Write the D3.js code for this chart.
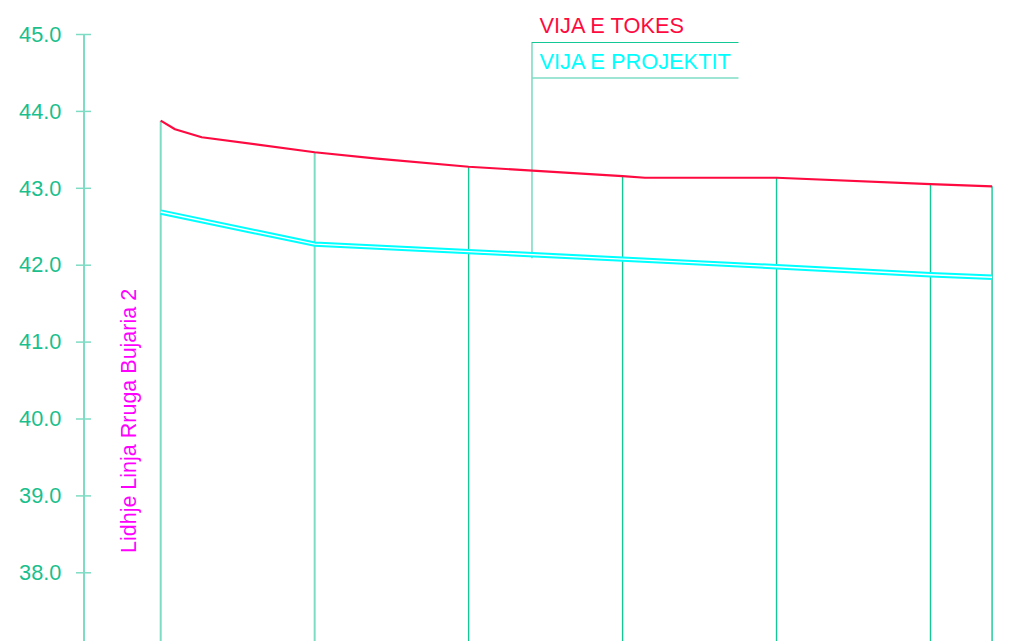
<!DOCTYPE html>
<html>
<head>
<meta charset="utf-8">
<script src="https://cdn.jsdelivr.net/npm/d3@7"></script>
<style>
  html, body { margin: 0; padding: 0; background: #ffffff; }
  svg { display: block; }
  text { font-family: "Liberation Sans", Arial, sans-serif; }
</style>
</head>
<body>
<svg id="chart" width="1024" height="641"></svg>
<script>
// ---- data ----
const yTicks = [38, 39, 40, 41, 42, 43, 44, 45];
const groundStations = [0, 1.86, 5.33, 20, 28.1, 40, 60, 62.9, 80, 100, 108];
const groundElev     = [43.873, 43.761, 43.657, 43.462, 43.38, 43.274, 43.153, 43.131, 43.131, 43.049, 43.019];
const designStations = [0, 20, 40, 60, 80, 100, 108];
const designElev     = [42.685, 42.267, 42.170, 42.072, 41.974, 41.87, 41.837];
const profileStations = [0, 20, 40, 60, 80, 100, 108];
const labelStation = 48.23;
const legendLabels = ["VIJA E TOKES", "VIJA E PROJEKTIT"];
const sideLabel = "Lidhje Linja Rruga Bujaria 2";

// ---- setup ----
const W = 1024, H = 641;
const svg = d3.select("#chart");
const x = d3.scaleLinear().domain([0, 100]).range([160.7, 930.5]);
const y = d3.scaleLinear().domain([38, 45]).range([572.3, 34]);

const light = "#7fdcc4", dark = "#14c896", labelCol = "#1abf8c";
const red = "#ff0a40", cyan = "#00ffff";

const groundAt = s => {
  const i = groundStations.indexOf(s);
  if (i >= 0) return groundElev[i];
  return d3.scaleLinear().domain(groundStations).range(groundElev)(s);
};
const designAt = s => d3.scaleLinear().domain(designStations).range(designElev)(s);

// ---- axis ----
const axisX = 84;
const gAxis = svg.append("g").attr("transform", `translate(${axisX},0)`);
gAxis.call(d3.axisLeft(y).tickValues(yTicks).tickFormat(d3.format(".1f")).tickSize(8).tickPadding(15));
gAxis.select(".domain").remove();
gAxis.append("line").attr("x1", 0).attr("x2", 0).attr("y1", y(45)).attr("y2", H + 5)
  .attr("stroke", light).attr("stroke-width", 2);
gAxis.selectAll(".tick line").attr("x1", 7).attr("x2", -8).attr("stroke", light).attr("stroke-width", 1.5);
gAxis.selectAll(".tick text").attr("fill", labelCol).attr("font-size", "21.8px")
  .attr("font-family", "Liberation Sans, Arial, sans-serif").attr("x", -22.5).attr("dy", "0.33em");

// ---- station verticals ----
svg.append("g").selectAll("line").data(profileStations).join("line")
  .attr("x1", d => x(d)).attr("x2", d => x(d))
  .attr("y1", d => y(groundAt(d))).attr("y2", H + 5)
  .attr("stroke", (d, i) => i < 2 ? light : dark)
  .attr("stroke-width", (d, i) => i < 2 ? 2 : 1.4);

// ---- leader line and legend ----
const lx = x(labelStation);
svg.append("line").attr("x1", lx).attr("x2", lx).attr("y1", 42).attr("y2", y(designAt(labelStation)) + 3.5)
  .attr("stroke", light).attr("stroke-width", 1.6);
svg.append("line").attr("x1", lx).attr("x2", 738.5).attr("y1", 42.5).attr("y2", 42.5)
  .attr("stroke", dark).attr("stroke-width", 1.2);
svg.append("line").attr("x1", lx).attr("x2", 738.5).attr("y1", 78).attr("y2", 78)
  .attr("stroke", light).attr("stroke-width", 1.6);
svg.append("text").attr("x", lx + 7.5).attr("y", 32.7).attr("fill", red).attr("font-size", "21.8px").text(legendLabels[0]);
svg.append("text").attr("x", lx + 7.5).attr("y", 69).attr("fill", cyan).attr("font-size", "21.8px").text(legendLabels[1]);

// ---- ground line ----
const line = d3.line().x(d => x(d[0])).y(d => y(d[1]));
svg.append("path").datum(d3.zip(groundStations, groundElev)).attr("d", line)
  .attr("fill", "none").attr("stroke", red).attr("stroke-width", 2.2).attr("stroke-linejoin", "round");

// ---- design double line ----
const designPts = d3.zip(designStations, designElev);
svg.append("path").datum(designPts).attr("d", line)
  .attr("fill", "none").attr("stroke", cyan).attr("stroke-width", 5.4);
svg.append("path").datum(designPts).attr("d", line)
  .attr("fill", "none").attr("stroke", "#ffffff").attr("stroke-width", 1.4);

// ---- side label ----
svg.append("text").attr("transform", "translate(135.5,553) rotate(-90)")
  .attr("fill", "#ff00ff").attr("font-size", "21.5px").text(sideLabel);
</script>
</body>
</html>
